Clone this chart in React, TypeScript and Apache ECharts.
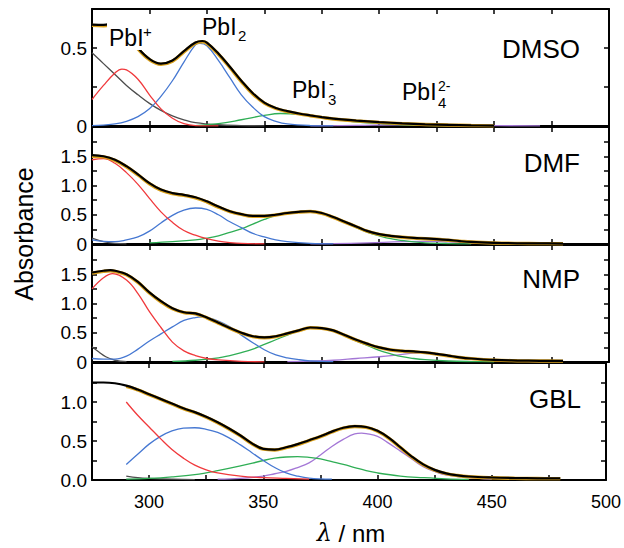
import React, { useEffect, useRef } from 'react';
import * as echarts from 'echarts';

type Pt = [number, number];

// ---------- DMSO ----------
const dmsoTotal: Pt[] = [[275,0.65],[280,0.648],[285,0.66],[290,0.6],[295,0.5],[300,0.43],[305,0.4],[310,0.42],[315,0.48],[320,0.535],[323,0.545],[325,0.535],[330,0.465],[335,0.38],[340,0.29],[345,0.21],[350,0.15],[355,0.115],[360,0.095],[365,0.08],[370,0.068],[375,0.057],[380,0.047],[390,0.035],[400,0.025],[410,0.017],[420,0.011],[430,0.007],[440,0.004],[450,0.002]];
const dmsoFit: Pt[] = [[275,0.645],[280,0.642],[285,0.655],[290,0.595],[295,0.495],[300,0.425],[305,0.395],[310,0.415],[315,0.475],[320,0.53],[323,0.54],[325,0.53],[330,0.46],[335,0.375],[340,0.285],[345,0.205],[350,0.147],[355,0.112],[360,0.092],[365,0.078],[370,0.066],[375,0.055],[380,0.045],[390,0.033],[400,0.023],[410,0.015],[420,0.01],[430,0.006],[440,0.003],[450,0.001]];
const dmsoGray: Pt[] = [[275,0.47],[280,0.4],[285,0.33],[290,0.26],[295,0.2],[300,0.145],[305,0.1],[310,0.065],[315,0.04],[320,0.022],[330,0.008],[340,0.003],[350,0.001]];
const dmsoRed: Pt[] = [[275,0.17],[280,0.26],[285,0.34],[288,0.365],[290,0.36],[295,0.3],[300,0.2],[305,0.11],[310,0.05],[315,0.015],[320,0.003],[330,0.001]];
const dmsoBlue: Pt[] = [[275,0.003],[280,0.006],[285,0.013],[290,0.03],[295,0.06],[300,0.11],[305,0.19],[310,0.29],[315,0.41],[320,0.52],[322,0.53],[325,0.515],[330,0.42],[335,0.31],[340,0.2],[345,0.12],[350,0.06],[355,0.03],[360,0.013],[370,0.003],[380,0.001]];
const dmsoGreen: Pt[] = [[320,0.003],[330,0.015],[340,0.04],[350,0.068],[357,0.08],[365,0.075],[375,0.055],[385,0.035],[395,0.02],[410,0.008],[430,0.002]];
const dmsoPurple: Pt[] = [[370,0.001],[390,0.004],[410,0.008],[430,0.005],[450,0.002],[470,0.001]];

// ---------- DMF ----------
const dmfTotal: Pt[] = [[275,1.52],[280,1.5],[285,1.44],[290,1.33],[295,1.19],[300,1.04],[305,0.93],[310,0.87],[315,0.84],[320,0.8],[325,0.73],[330,0.64],[335,0.56],[340,0.51],[345,0.48],[350,0.48],[355,0.5],[360,0.53],[365,0.55],[370,0.56],[375,0.53],[380,0.46],[385,0.38],[390,0.3],[395,0.22],[400,0.17],[405,0.14],[410,0.12],[415,0.105],[420,0.095],[425,0.085],[430,0.07],[435,0.05],[440,0.035],[450,0.02],[460,0.012],[470,0.01],[480,0.008]];
const dmfFit: Pt[] = [[275,1.5],[280,1.49],[285,1.43],[290,1.32],[295,1.18],[300,1.03],[305,0.92],[310,0.86],[315,0.83],[320,0.79],[325,0.72],[330,0.63],[335,0.555],[340,0.505],[345,0.475],[350,0.475],[355,0.495],[360,0.525],[365,0.545],[370,0.555],[375,0.525],[380,0.455],[385,0.375],[390,0.295],[395,0.215],[400,0.165],[405,0.135],[410,0.115],[415,0.1],[420,0.09],[425,0.08],[430,0.065],[435,0.05],[440,0.035],[450,0.018],[460,0.01],[470,0.007],[480,0.005]];
const dmfGray: Pt[] = [[275,0.1],[280,0.04],[285,0.01],[290,0.002]];
const dmfRed: Pt[] = [[275,1.44],[280,1.46],[285,1.38],[290,1.22],[295,1.02],[300,0.78],[305,0.55],[310,0.37],[315,0.23],[320,0.15],[325,0.09],[330,0.05],[335,0.025],[340,0.01],[350,0.002]];
const dmfBlue: Pt[] = [[275,0.07],[280,0.045],[285,0.04],[290,0.07],[295,0.12],[300,0.22],[305,0.36],[310,0.49],[315,0.58],[320,0.615],[325,0.59],[330,0.5],[335,0.38],[340,0.28],[345,0.18],[350,0.12],[355,0.07],[360,0.04],[370,0.012],[380,0.003]];
const dmfGreen: Pt[] = [[300,0.02],[310,0.04],[320,0.07],[325,0.1],[330,0.14],[335,0.2],[340,0.26],[345,0.34],[350,0.42],[355,0.49],[360,0.53],[365,0.555],[370,0.56],[375,0.52],[380,0.45],[385,0.37],[390,0.28],[395,0.2],[400,0.14],[405,0.09],[410,0.06],[415,0.035],[420,0.02],[430,0.008],[440,0.003]];
const dmfPurple: Pt[] = [[370,0.002],[380,0.005],[395,0.02],[410,0.04],[420,0.045],[430,0.035],[440,0.02],[450,0.01],[460,0.004],[470,0.001]];

// ---------- NMP ----------
const nmpTotal: Pt[] = [[275,1.53],[280,1.56],[283,1.57],[285,1.56],[290,1.5],[295,1.37],[300,1.19],[305,1.04],[310,0.92],[315,0.85],[320,0.83],[325,0.76],[330,0.67],[335,0.58],[340,0.5],[345,0.44],[350,0.42],[355,0.44],[360,0.49],[365,0.54],[370,0.59],[375,0.58],[380,0.54],[385,0.46],[390,0.38],[395,0.31],[400,0.25],[405,0.21],[410,0.19],[415,0.18],[420,0.165],[425,0.14],[430,0.11],[435,0.08],[440,0.06],[450,0.035],[460,0.025],[470,0.02],[480,0.018]];
const nmpFit: Pt[] = [[275,1.52],[280,1.55],[283,1.56],[285,1.55],[290,1.49],[295,1.36],[300,1.18],[305,1.03],[310,0.91],[315,0.845],[320,0.825],[325,0.755],[330,0.665],[335,0.575],[340,0.495],[345,0.435],[350,0.415],[355,0.435],[360,0.485],[365,0.535],[370,0.585],[375,0.575],[380,0.535],[385,0.455],[390,0.375],[395,0.305],[400,0.245],[405,0.205],[410,0.185],[415,0.175],[420,0.16],[425,0.135],[430,0.105],[435,0.077],[440,0.057],[450,0.032],[460,0.022],[470,0.017],[480,0.015]];
const nmpGray: Pt[] = [[275,0.26],[278,0.17],[281,0.09],[285,0.03],[290,0.005]];
const nmpRed: Pt[] = [[275,1.25],[280,1.44],[284,1.51],[290,1.4],[295,1.17],[300,0.86],[305,0.59],[310,0.34],[315,0.19],[320,0.11],[325,0.06],[330,0.035],[340,0.01],[350,0.003]];
const nmpBlue: Pt[] = [[275,0.06],[280,0.05],[285,0.05],[290,0.1],[295,0.22],[300,0.36],[305,0.48],[310,0.6],[315,0.71],[320,0.76],[323,0.77],[325,0.76],[330,0.7],[335,0.6],[340,0.46],[345,0.33],[350,0.21],[355,0.12],[360,0.07],[365,0.04],[370,0.02],[380,0.005]];
const nmpGreen: Pt[] = [[310,0.01],[320,0.03],[330,0.07],[335,0.11],[340,0.16],[345,0.22],[350,0.3],[355,0.38],[360,0.46],[365,0.53],[370,0.58],[373,0.59],[375,0.58],[380,0.53],[385,0.45],[390,0.36],[395,0.28],[400,0.2],[405,0.14],[410,0.09],[415,0.06],[420,0.04],[430,0.017],[440,0.007],[450,0.003]];
const nmpPurple: Pt[] = [[360,0.005],[370,0.015],[380,0.03],[390,0.06],[400,0.09],[410,0.13],[415,0.15],[420,0.16],[425,0.14],[430,0.11],[435,0.08],[440,0.06],[450,0.03],[460,0.015],[470,0.006]];

// ---------- GBL ----------
const gblTotal: Pt[] = [[275,1.25],[280,1.25],[285,1.24],[290,1.21],[295,1.16],[300,1.1],[305,1.04],[310,0.98],[315,0.92],[320,0.87],[325,0.81],[330,0.74],[335,0.66],[340,0.57],[345,0.47],[350,0.4],[355,0.39],[360,0.42],[365,0.46],[370,0.51],[375,0.56],[380,0.62],[385,0.67],[390,0.69],[395,0.68],[400,0.63],[405,0.54],[410,0.42],[415,0.3],[420,0.2],[425,0.13],[430,0.085],[435,0.06],[440,0.045],[450,0.032],[460,0.025],[470,0.022],[480,0.02]];
const gblFit: Pt[] = [[290,1.2],[295,1.155],[300,1.095],[305,1.035],[310,0.975],[315,0.915],[320,0.865],[325,0.805],[330,0.735],[335,0.655],[340,0.565],[345,0.465],[350,0.395],[355,0.385],[360,0.415],[365,0.455],[370,0.505],[375,0.555],[380,0.615],[385,0.665],[390,0.685],[395,0.675],[400,0.625],[405,0.535],[410,0.415],[415,0.295],[420,0.195],[425,0.125],[430,0.082],[435,0.057],[440,0.042],[450,0.029],[460,0.022],[470,0.019],[480,0.017]];
const gblGray: Pt[] = [[290,0.05],[295,0.03],[300,0.02],[310,0.01],[320,0.005]];
const gblRed: Pt[] = [[290,1.0],[295,0.83],[300,0.68],[305,0.53],[310,0.39],[315,0.28],[320,0.19],[325,0.13],[330,0.09],[340,0.05],[350,0.03],[360,0.02],[370,0.01]];
const gblBlue: Pt[] = [[290,0.2],[295,0.33],[300,0.46],[305,0.56],[310,0.63],[315,0.665],[320,0.67],[325,0.65],[330,0.61],[335,0.54],[340,0.45],[345,0.35],[350,0.25],[355,0.16],[360,0.09],[365,0.05],[370,0.025],[380,0.01]];
const gblGreen: Pt[] = [[290,0.01],[300,0.02],[310,0.04],[320,0.07],[330,0.12],[340,0.18],[350,0.25],[355,0.28],[360,0.295],[365,0.3],[370,0.29],[375,0.27],[380,0.235],[385,0.2],[390,0.16],[395,0.12],[400,0.09],[410,0.05],[420,0.03],[430,0.015],[440,0.008]];
const gblPurple: Pt[] = [[330,0.01],[340,0.02],[350,0.05],[355,0.08],[360,0.11],[365,0.16],[370,0.22],[375,0.32],[380,0.43],[385,0.52],[390,0.59],[393,0.6],[395,0.595],[400,0.56],[405,0.47],[410,0.37],[415,0.27],[420,0.17],[425,0.11],[430,0.065],[440,0.03],[450,0.01]];

const panelNames = ['DMSO', 'DMF', 'NMP', 'GBL'];
const yMaxes = [0.75, 2, 2, 1.5];
const xTickLabels = [300, 350, 400, 450, 500];

const panels = [
  { total: dmsoTotal, fit: dmsoFit, gray: dmsoGray, red: dmsoRed, blue: dmsoBlue, green: dmsoGreen, purple: dmsoPurple },
  { total: dmfTotal, fit: dmfFit, gray: dmfGray, red: dmfRed, blue: dmfBlue, green: dmfGreen, purple: dmfPurple },
  { total: nmpTotal, fit: nmpFit, gray: nmpGray, red: nmpRed, blue: nmpBlue, green: nmpGreen, purple: nmpPurple },
  { total: gblTotal, fit: gblFit, gray: gblGray, red: gblRed, blue: gblBlue, green: gblGreen, purple: gblPurple },
];

const FONT = '"Liberation Sans", Arial, Helvetica, sans-serif';
const COLORS = {
  gray: '#4d4d4d', red: '#f0393c', blue: '#4678d2', green: '#2fae55', purple: '#a477d6', fit: '#dca21c', total: '#000000',
};

function yFormatter(p: number) {
  return (v: number) => {
    const r = Math.round(v * 100) / 100;
    if (Math.abs(r * 2 - Math.round(r * 2)) > 1e-6) return '';
    if (p === 3) return r.toFixed(1);
    return r === 0 ? '0' : r.toFixed(1);
  };
}

export default function App() {
  const ref = useRef<HTMLDivElement>(null);
  useEffect(() => {
    document.body.style.margin = '0';
    if (!ref.current) return;
    const chart = echarts.init(ref.current, undefined, { renderer: 'svg' });
    const tops = [9, 127, 245, 363];
    const h = 117;
    const grids: any[] = [];
    const xAxes: any[] = [];
    const yAxes: any[] = [];
    const series: any[] = [];
    const axisLine = { show: true, onZero: false, lineStyle: { color: '#000', width: 2 } };
    const tick = { show: true, inside: true, length: 5, lineStyle: { color: '#000', width: 1.5 } };
    panels.forEach((pd, i) => {
      grids.push({ left: 92, right: 15, top: tops[i], height: h });
      const isLast = i === panels.length - 1;
      xAxes.push({
        gridIndex: i, type: 'value', min: 275, max: 500, interval: 25, position: 'bottom',
        axisLine, axisTick: tick, splitLine: { show: false },
        axisLabel: {
          show: isLast, margin: 13, color: '#000', fontSize: 18, fontFamily: FONT,
          formatter: (v: number) => (xTickLabels.indexOf(v) >= 0 ? String(v) : ''),
        },
      });
      xAxes.push({
        gridIndex: i, type: 'value', min: 275, max: 500, interval: 25, position: 'top',
        axisLine, axisTick: tick, splitLine: { show: false }, axisLabel: { show: false },
      });
      yAxes.push({
        gridIndex: i, type: 'value', min: 0, max: yMaxes[i], interval: 0.25, position: 'left',
        axisLine, axisTick: tick, splitLine: { show: false },
        axisLabel: {
          show: true, margin: 5, color: '#000', fontSize: 19, fontFamily: FONT,
          showMaxLabel: false, formatter: yFormatter(i),
        },
      });
      yAxes.push({
        gridIndex: i, type: 'value', min: 0, max: yMaxes[i], interval: 0.25, position: 'right',
        axisLine, axisTick: tick, splitLine: { show: false }, axisLabel: { show: false },
      });
      const keys: (keyof typeof COLORS)[] = ['gray', 'purple', 'green', 'blue', 'red', 'fit', 'total'];
      keys.forEach((k) => {
        const isMain = k === 'fit' || k === 'total';
        series.push({
          type: 'line', xAxisIndex: 2 * i, yAxisIndex: 2 * i,
          data: (pd as any)[k], smooth: 0.4, showSymbol: false, symbol: 'none',
          lineStyle: { color: COLORS[k], width: k === 'total' ? 2.2 : k === 'fit' ? 3.4 : 1.3 },
          z: isMain ? (k === 'total' ? 5 : 4) : 2,
          silent: true,
        });
      });
    });

    const txt = (text: string, x: number, y: number, size: number, align = 'left') => ({
      type: 'text', x, y, z: 100,
      style: { text, fill: '#000', fontSize: size, fontFamily: FONT, align, verticalAlign: 'middle' },
    });
    const graphic: any[] = [
      { type: 'rect', z: 99, shape: { x: 107, y: 18, width: 48, height: 32 }, style: { fill: '#fff' } },
      txt('PbI', 109, 38, 23), txt('+', 143, 31, 15),
      txt('PbI', 202, 27, 23), txt('2', 238, 35, 15),
      txt('PbI', 292, 90, 23), txt('3', 328, 99, 15), txt('-', 329, 83, 15),
      txt('PbI', 402, 92, 23), txt('2-', 438, 86, 14), txt('4', 438, 102, 15),
      txt(panelNames[0], 580, 49, 26, 'right'),
      txt(panelNames[1], 580, 163, 26, 'right'),
      txt(panelNames[2], 580, 279, 26, 'right'),
      txt(panelNames[3], 581, 399, 26, 'right'),
      { type: 'text', x: 24, y: 234, rotation: Math.PI / 2, z: 100,
        style: { text: 'Absorbance', fill: '#000', fontSize: 25, fontFamily: FONT, align: 'center', verticalAlign: 'middle' } },
      { type: 'text', x: 351, y: 533, z: 100,
        style: {
          text: '{i|λ} / nm', fill: '#000', fontSize: 24, fontFamily: FONT, align: 'center', verticalAlign: 'middle',
          rich: { i: { fontStyle: 'italic', fontSize: 24, fontFamily: 'DejaVu Serif, serif', fill: '#000' } },
        } },
    ];

    chart.setOption({
      animation: false,
      backgroundColor: '#fff',
      grid: grids,
      xAxis: xAxes,
      yAxis: yAxes,
      series,
      graphic,
    });
    return () => chart.dispose();
  }, []);
  return <div ref={ref} style={{ width: 624, height: 548 }} />;
}
